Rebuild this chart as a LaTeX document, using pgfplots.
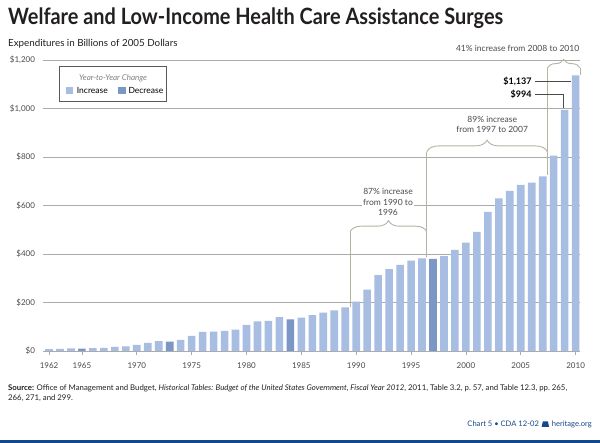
\documentclass[border=0pt]{standalone}
\usepackage{pgfplots}
\pgfplotsset{compat=1.18}
\usepackage{pgfplotstable}
\usepackage{fontspec}
\setmainfont{Lato}
\newfontfamily\titlefont[FakeStretch=0.885]{Lato}
\usetikzlibrary{decorations.pathreplacing}
\definecolor{barlight}{HTML}{A7BDE1}
\definecolor{bardark}{HTML}{7A97C5}
\definecolor{gridgray}{HTML}{ABABAB}
\definecolor{brgray}{HTML}{B4B3A4}
\definecolor{txtgray}{HTML}{4A4A4A}
\definecolor{navy}{HTML}{14488A}
\definecolor{titleblack}{HTML}{231F20}

\pgfplotstableread{
year value
1962 8
1963 9
1964 11
1966 12
1967 13
1968 17
1969 19
1970 25
1971 33
1972 41
1974 46
1975 62
1976 79
1977 80
1978 83
1979 88
1980 108
1981 122
1982 124
1983 140
1985 138
1986 148
1987 158
1988 167
1989 180
1990 204
1991 253
1992 313
1993 338
1994 355
1995 373
1996 382
1998 391
1999 417
2000 447
2001 491
2002 574
2003 629
2004 660
2005 685
2006 694
2007 720
2008 806
2009 994
2010 1137
}\incdata

\pgfplotstableread{
year value
1965 10
1973 39
1984 130
1997 380
}\decdata

\begin{document}
\begin{tikzpicture}[x=1pt,y=1pt]
\useasboundingbox (0,0) rectangle (600,443);
\fill[white] (0,0) rectangle (600,443);
\begin{axis}[
  at={(43pt,92pt)}, anchor=south west,
  scale only axis, width=537pt, height=291pt,
  xmin=1961.45, xmax=2010.4, ymin=0, ymax=1200,
  clip=false,
  axis line style={draw=none},
  ytick={0,200,...,1200},
  yticklabels={{\$0},{\$200},{\$400},{\$600},{\$800},{\$1,000},{\$1,200}},
  xtick={1962,1965,1970,1975,1980,1985,1990,1995,2000,2005,2010},
  xticklabels={1962,1965,1970,1975,1980,1985,1990,1995,2000,2005,2010},
  xtick pos=bottom, ytick pos=left,
  tick align=outside,
  major tick length=4.5pt,
  xtick style={draw=gridgray, line width=0.7pt},
  ytick style={draw=none},
  ymajorgrids,
  grid style={gridgray, line width=0.8pt},
  ticklabel style={font=\fontsize{8}{9}\selectfont, text=txtgray},
  yticklabel style={xshift=0pt},
  xticklabel style={yshift=-3.5pt},
]
\addplot[ybar, bar width=7.6pt, bar shift=0pt, fill=barlight, draw=none] table[x=year,y=value]{\incdata};
\addplot[ybar, bar width=7.6pt, bar shift=0pt, fill=bardark, draw=none] table[x=year,y=value]{\decdata};

% 87% bracket
\draw[brgray, line width=0.9pt] (axis cs:1989.44,183) -- (axis cs:1989.44,492);
\draw[brgray, line width=0.9pt, decorate, decoration={brace, amplitude=11pt}] (axis cs:1989.44,492) -- (axis cs:1996.44,492);
\draw[brgray, line width=0.9pt] (axis cs:1996.44,492) -- (axis cs:1996.44,388);
% 89% bracket
\draw[brgray, line width=0.9pt] (axis cs:1996.44,388) -- (axis cs:1996.44,822);
\draw[brgray, line width=0.9pt, decorate, decoration={brace, amplitude=11.5pt}] (axis cs:1996.44,822) -- (axis cs:2007.42,822);
\draw[brgray, line width=0.9pt] (axis cs:2007.42,822) -- (axis cs:2007.42,726);
% 41% bracket
\draw[brgray, line width=0.9pt] (axis cs:2007.42,810) -- (axis cs:2007.42,1167);
\draw[brgray, line width=0.9pt, decorate, decoration={brace, amplitude=8.7pt}] (axis cs:2007.42,1167) -- (axis cs:2010.4,1167);
\draw[brgray, line width=0.9pt] (axis cs:2010.4,1167) -- (axis cs:2010.4,1140);

\node[font=\fontsize{8.5}{10.5}\selectfont, text=txtgray, align=center, fill=white, inner sep=1pt] at (axis cs:1992.9,614) {87\% increase\\from 1990 to\\1996};
\node[font=\fontsize{8.5}{10.5}\selectfont, text=txtgray, align=center, inner sep=0pt] at (axis cs:2002.4,934) {89\% increase\\from 1997 to 2007};
\node[font=\fontsize{8.5}{10}\selectfont, text=txtgray, anchor=east, inner sep=0pt] at (axis cs:2010.35,1247) {41\% increase from 2008 to 2010};

\draw[black!70, line width=0.6pt] (axis cs:2006.3,1113) -- (axis cs:2009.58,1113);
\draw[black!70, line width=0.6pt] (axis cs:2006.3,1060) -- (axis cs:2008.88,1060) -- (axis cs:2008.88,1001);
\node[font=\bfseries\fontsize{9}{10}\selectfont, anchor=east, inner sep=0pt] at (axis cs:2006.0,1113) {\$1,137};
\node[font=\bfseries\fontsize{9}{10}\selectfont, anchor=east, inner sep=0pt] at (axis cs:2006.0,1060) {\$994};
\end{axis}

% title and subtitle
\node[anchor=base west, inner sep=0pt, text=titleblack] at (8,418) {\titlefont\bfseries\fontsize{22.5}{24}\selectfont Welfare and Low-Income Health Care Assistance Surges};
\node[anchor=base west, inner sep=0pt, text=titleblack] at (8,396.3) {\fontsize{9.8}{12}\selectfont Expenditures in Billions of 2005 Dollars};

% legend
\draw[black!65, line width=0.6pt] (59.7,342) rectangle (166,376.3);
\node[font=\itshape\fontsize{8}{9}\selectfont, text=black!50] at (113,364.5) {Year-to-Year Change};
\fill[barlight] (66,349.3) rectangle (73.3,356);
\node[anchor=base west, inner sep=0pt, font=\fontsize{8.5}{10}\selectfont] at (76.7,349.5) {Increase};
\fill[bardark] (118.3,349.3) rectangle (125.7,356);
\node[anchor=base west, inner sep=0pt, font=\fontsize{8.5}{10}\selectfont] at (128.3,349.5) {Decrease};

% source
\node[anchor=base west, inner sep=0pt, text=titleblack, font=\fontsize{7.8}{9}\selectfont] at (8,52) {\textbf{Source:} Office of Management and Budget, \textit{Historical Tables: Budget of the United States Government, Fiscal Year 2012}, 2011, Table 3.2, p.\ 57, and Table 12.3, pp.\ 265,};
\node[anchor=base west, inner sep=0pt, text=titleblack, font=\fontsize{7.8}{9}\selectfont] at (8,42) {266, 271, and 299.};

% footer
\node[anchor=base east, inner sep=0pt, text=navy, font=\fontsize{7.6}{9}\selectfont] (h) at (592,16) {heritage.org};
\fill[navy] ([xshift=-10pt]h.base west) -- ++(7.5,0) -- ++(-1.2,5.5) -- ++(-5.1,0) -- cycle;
\node[anchor=base east, inner sep=0pt, text=navy, font=\fontsize{7.6}{9}\selectfont] at ([xshift=-12.5pt]h.base west) {Chart 5 \textbullet{} CDA 12-02};

\fill[navy] (0,0) rectangle (600,2.5);
\end{tikzpicture}
\end{document}
